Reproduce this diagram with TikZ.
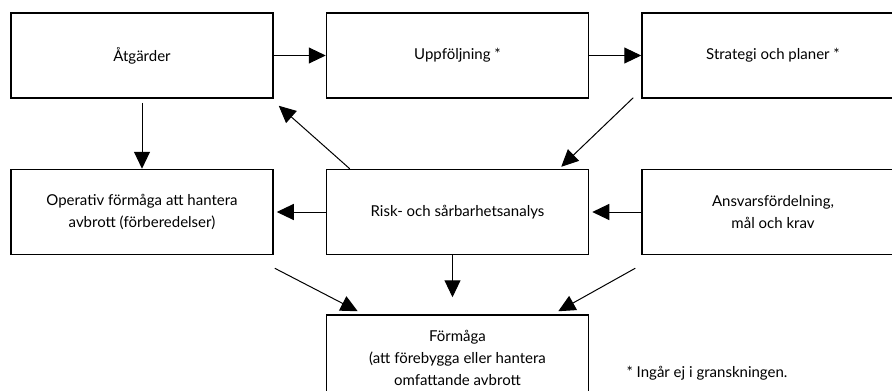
\documentclass[tikz,border=0pt]{standalone}
\usepackage{fontspec}
\setmainfont{Lato}
\usetikzlibrary{arrows.meta,positioning,calc}

\begin{document}
\begin{tikzpicture}[
    x=1pt, y=-1pt,
    every node/.style={font=\fontsize{15}{22}\selectfont},
    box/.style={draw, line width=1.5pt, minimum width=262pt, minimum height=85pt, align=center, inner sep=0pt},
    pil/.style={-{Triangle[length=17pt,width=16pt]}, line width=1pt}
]
\useasboundingbox (0,0) rectangle (892,391);
\node[box] (atg) at (142,55.5) {Åtgärder};
\node[box, right=52pt of atg] (upp) {Uppföljning *};
\node[box, right=52pt of upp] (strat) {Strategi och planer *};
\node[box, below=70pt of atg] (oper) {Operativ förmåga att hantera\\avbrott (förberedelser)};
\node[box, below=70pt of upp] (risk) {Risk- och sårbarhetsanalys};
\node[box, below=70pt of strat] (ansv) {Ansvarsfördelning,\\mål och krav};
\node[box, below=59pt of risk] (form) {Förmåga\\(att förebygga eller hantera\\omfattande avbrott};
\node (fot) at (707,373) {* Ingår ej i granskningen.};

\draw[pil] (atg) -- (upp);
\draw[pil] (upp) -- (strat);
\draw[pil] ($(atg.south)+(0,4)$) -- (oper.north -| atg.south);
\draw[pil] ($(risk.north west)+(24,0)$) -- ($(atg.south east)+(5,7)$);
\draw[pil] ($(strat.south west)+(-8,-1)$) -- ($(risk.north east)+(-28,-2)$);
\draw[pil, shorten >=3pt] (risk) -- (oper);
\draw[pil, shorten >=3pt] (ansv) -- (risk);
\draw[pil] ($(risk.south)+(-5,0)$) -- ($(form.north)+(-5,-17)$);
\draw[pil] ($(oper.south east)+(1,13)$) -- ($(form.north west)+(32,-3)$);
\draw[pil] ($(ansv.south west)+(-6,13)$) -- ($(form.north east)+(-31,-3)$);
\end{tikzpicture}
\end{document}
